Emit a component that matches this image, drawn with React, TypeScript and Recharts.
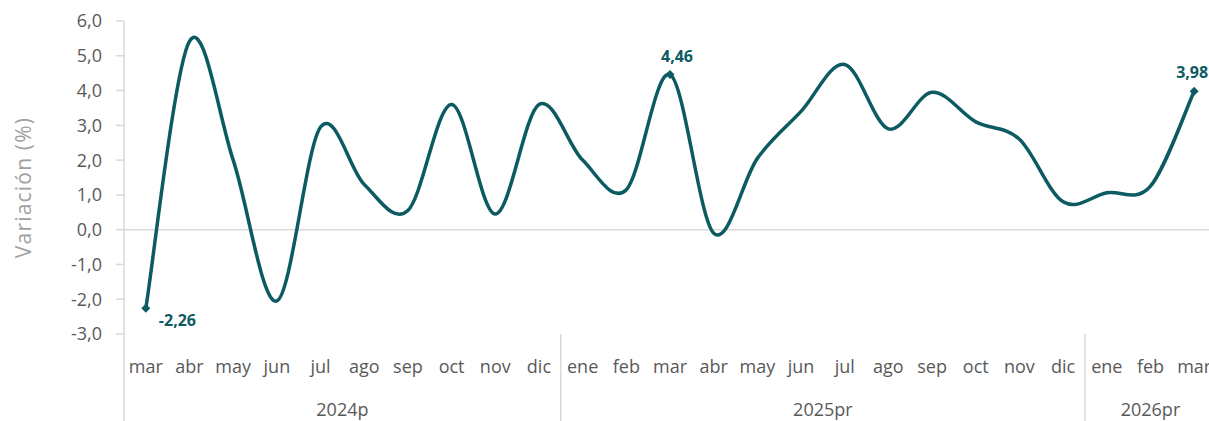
import { ComposedChart, Line, XAxis, YAxis, ReferenceLine } from "recharts";

const months = [
  "mar", "abr", "may", "jun", "jul", "ago", "sep", "oct", "nov", "dic",
  "ene", "feb", "mar", "abr", "may", "jun", "jul", "ago", "sep", "oct", "nov", "dic",
  "ene", "feb", "mar",
];
const values = [
  -2.26, 5.42, 2.0, -2.05, 2.95, 1.3, 0.55, 3.6, 0.45, 3.6,
  2.0, 1.15, 4.46, -0.1, 2.05, 3.4, 4.75, 2.9, 3.95, 3.1, 2.6, 0.8,
  1.06, 1.25, 3.98,
];
const yearLabels = ["2024p", "2025pr", "2026pr"];
const yearCounts = [10, 12, 3];
const yTicks = [-3, -2, -1, 0, 1, 2, 3, 4, 5, 6];
const labelled = [0, 12, 24];

const data = months.map((m, i) => ({ key: `${m}-${i}`, value: values[i] }));

let acc = 0;
const groups = yearLabels.map((label, i) => {
  const g = { label, start: acc, count: yearCounts[i] };
  acc += yearCounts[i];
  return g;
});

const W = 1220;
const H = 421;
const Y_W = 124;
const X_H = 87;
const margin = { top: 21, right: 4, left: 0, bottom: 0 };
const PLOT_W = W - margin.left - margin.right - Y_W;
const BAND = PLOT_W / months.length;
const PLOT_BOTTOM = H - X_H;

const TEAL = "#0c5a62";
const GRID = "#d9d9d9";
const TEXT = "#595959";
const FONT = "'Open Sans', sans-serif";

const fmt = (v: number, d = 1) => v.toFixed(d).replace(".", ",");

// smooth line like Excel's (catmull-rom as bezier)
const smoothCurve = (context: any) => {
  let pts: number[][] = [];
  return {
    areaStart() {},
    areaEnd() {},
    lineStart() {
      pts = [];
    },
    point(x: number, y: number) {
      pts.push([+x, +y]);
    },
    lineEnd() {
      if (!pts.length) return;
      context.moveTo(pts[0][0], pts[0][1]);
      for (let i = 0; i < pts.length - 1; i++) {
        const p0 = pts[Math.max(i - 1, 0)];
        const p1 = pts[i];
        const p2 = pts[i + 1];
        const p3 = pts[Math.min(i + 2, pts.length - 1)];
        context.bezierCurveTo(
          p1[0] + (p2[0] - p0[0]) / 6,
          p1[1] + (p2[1] - p0[1]) / 6,
          p2[0] - (p3[0] - p1[0]) / 6,
          p2[1] - (p3[1] - p1[1]) / 6,
          p2[0],
          p2[1]
        );
      }
    },
  };
};

function MonthTick(props: any) {
  const { x, payload } = props;
  const i = props.index ?? payload.index;
  const g = groups.find((gr) => gr.start === i);
  const last = i === months.length - 1;
  return (
    <g>
      <text x={x} y={373} textAnchor="middle" fill={TEXT} fontSize={18} fontFamily={FONT}>
        {months[i]}
      </text>
      {g && (
        <>
          <line x1={x - BAND / 2} x2={x - BAND / 2} y1={PLOT_BOTTOM} y2={H} stroke={GRID} strokeWidth={1.5} />
          <text
            x={x - BAND / 2 + (g.count * BAND) / 2}
            y={416}
            textAnchor="middle"
            fill={TEXT}
            fontSize={18}
            fontFamily={FONT}
          >
            {g.label}
          </text>
        </>
      )}
      {last && <line x1={x + BAND / 2} x2={x + BAND / 2} y1={PLOT_BOTTOM} y2={H} stroke={GRID} strokeWidth={1.5} />}
    </g>
  );
}

function Marker(props: any) {
  const { cx, cy, index, value } = props;
  if (!labelled.includes(index)) return <g key={`d${index}`} />;
  const s = 4.5;
  const pos =
    index === 0
      ? { x: cx + 13, y: cy + 17.5, anchor: "start" }
      : index === months.length - 1
      ? { x: cx - 2, y: cy - 13.5, anchor: "middle" }
      : { x: cx + 7, y: cy - 12.5, anchor: "middle" };
  return (
    <g key={`d${index}`}>
      <path d={`M${cx},${cy - s}L${cx + s},${cy}L${cx},${cy + s}L${cx - s},${cy}Z`} fill={TEAL} />
      <text
        x={pos.x}
        y={pos.y}
        textAnchor={pos.anchor as any}
        fill={TEAL}
        fontSize={16}
        fontWeight={700}
        fontFamily={FONT}
      >
        {fmt(value, 2)}
      </text>
    </g>
  );
}

export default function App() {
  return (
    <div style={{ width: 1209, height: H, overflow: "hidden", background: "#fff" }}>
      <style>{"body{margin:0;overflow:hidden}"}</style>
      <ComposedChart width={W} height={H} data={data} margin={margin}>
        <XAxis
          dataKey="key"
          axisLine={false}
          tickLine={false}
          interval={0}
          height={X_H}
          padding={{ left: BAND / 2, right: BAND / 2 }}
          tick={<MonthTick />}
        />
        <YAxis
          domain={[-3, 6]}
          ticks={yTicks}
          width={Y_W}
          interval={0}
          tickFormatter={(v: number) => fmt(v)}
          axisLine={{ stroke: GRID, strokeWidth: 1.5 }}
          tickLine={{ stroke: GRID, strokeWidth: 1.5 }}
          tickSize={8}
          tickMargin={14}
          tick={{ fill: TEXT, fontSize: 18, fontFamily: FONT }}
          label={({ viewBox }: any) => {
            const cx = viewBox.x + 23;
            const cy = viewBox.y + viewBox.height / 2 + 10;
            return (
              <text
                x={cx}
                y={cy}
                transform={`rotate(-90 ${cx} ${cy})`}
                textAnchor="middle"
                dominantBaseline="central"
                fill="#a0a0a0"
                fontSize={21}
                letterSpacing={1.2}
                fontFamily={FONT}
              >
                Variación (%)
              </text>
            );
          }}
        />
        <ReferenceLine y={0} stroke={GRID} strokeWidth={1.5} />
        <Line
          dataKey="value"
          type={smoothCurve as any}
          stroke={TEAL}
          strokeWidth={3.5}
          dot={Marker}
          activeDot={false}
          isAnimationActive={false}
        />
      </ComposedChart>
    </div>
  );
}
